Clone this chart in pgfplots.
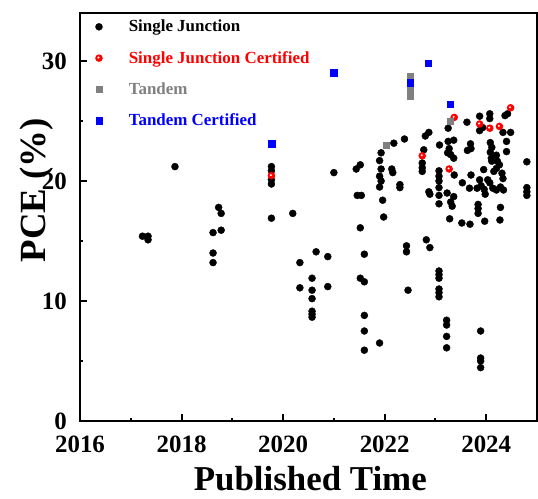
\documentclass[border=0pt]{standalone}
\usepackage{fontspec}
\setmainfont{Liberation Serif}
\usepackage{pgfplots}
\pgfplotsset{compat=1.18}
\definecolor{tgray}{RGB}{128,128,128}
\pgfdeclareplotmark{redball}{%
  \pgfpathcircle{\pgfpointorigin}{\pgfplotmarksize}%
  \pgfsetfillcolor{red}\pgfusepathqfill
  \pgfpathcircle{\pgfpoint{-0.15\pgfplotmarksize}{0.15\pgfplotmarksize}}{0.3\pgfplotmarksize}%
  \pgfsetfillcolor{white}\pgfusepathqfill}
\begin{document}
\begin{tikzpicture}
\begin{axis}[
  name=ax,
  scale only axis,
  width=457bp, height=408bp,
  xmin=2016, xmax=2025, ymin=0, ymax=34,
  xtick={2016,2018,2020,2022,2024},
  ytick={0,10,20,30},
  minor x tick num=1, minor y tick num=1,
  tick pos=left, tick align=inside,
  major tick length=7bp, minor tick length=3.5bp,
  every tick/.style={black, line width=2bp},
  axis line style={line width=2.6bp},
  /pgf/number format/assume math mode=true,
  /pgf/number format/1000 sep={},
  ticklabel style={font=\bfseries\fontsize{25}{25}\selectfont, inner sep=0pt},
  xticklabel style={yshift=-15bp},
  yticklabel style={xshift=-13bp},
  xlabel={Published Time},
  ylabel={PCE (\%)},
  every axis x label/.style={at={(axis description cs:0.504,-0.142)}, anchor=center, font=\bfseries\fontsize{35}{35}\selectfont},
  every axis y label/.style={at={(axis description cs:-0.094,0.566)}, rotate=90, anchor=center, font=\bfseries\fontsize{37}{37}\selectfont},
  legend style={at={(axis description cs:0,1)}, anchor=north west, xshift=15bp, yshift=-5bp,
    draw=none, fill=none, inner sep=0pt, row sep=14bp, column sep=24bp,
    font=\bfseries\fontsize{17}{17}\selectfont},
  legend cell align=left,
]
\addplot[only marks, mark=*, mark size=3.5bp, black] coordinates {
(2017.23,15.4)(2017.34,15.4)(2017.34,15.1)(2017.87,21.2)
(2018.73,17.8)(2018.78,17.3)(2018.78,15.9)(2018.62,15.7)(2018.62,14.0)(2018.62,13.2)
(2019.77,21.2)(2019.77,20.85)(2019.77,20.1)(2019.77,19.75)(2019.77,16.9)
(2020.19,17.3)(2020.33,13.2)(2020.33,11.1)(2020.65,14.1)(2020.88,13.7)
(2020.57,11.9)(2020.57,10.9)(2020.57,10.2)(2020.57,9.15)(2020.57,8.9)(2020.57,8.65)(2020.88,11.2)
(2021.00,20.7)(2021.44,21.0)(2021.52,21.35)(2021.46,18.8)(2021.54,18.8)
(2021.52,16.1)(2021.60,13.9)(2021.52,11.9)(2021.60,11.6)(2021.60,8.8)(2021.60,7.5)(2021.60,5.9)(2021.90,6.5)
(2021.93,22.35)(2021.90,21.7)(2021.93,21.0)(2021.90,20.4)(2021.93,20.0)(2021.90,19.5)(2021.96,18.4)(2021.98,17.0)
(2022.18,23.15)(2022.14,21.0)(2022.16,20.7)(2022.30,19.7)(2022.30,19.45)(2022.39,23.5)
(2022.43,14.6)(2022.43,14.1)(2022.46,10.9)
(2022.77,22.6)(2022.74,21.5)(2022.74,21.1)(2022.74,20.8)(2022.87,24.05)(2022.80,23.75)
(2022.87,19.1)(2022.89,18.9)(2022.82,15.1)(2022.89,14.45)
(2023.08,23.0)(2023.07,20.85)(2023.07,20.4)(2023.07,20.0)(2023.07,19.45)(2023.07,18.8)(2023.07,18.1)
(2023.25,24.4)(2023.25,23.3)(2023.36,23.4)(2023.27,22.7)(2023.24,22.35)(2023.30,22.2)(2023.36,21.9)
(2023.37,20.5)(2023.23,19.0)(2023.36,18.7)(2023.30,18.25)(2023.33,17.9)(2023.28,16.85)
(2023.07,12.5)(2023.07,12.2)(2023.07,11.9)(2023.07,11.0)(2023.07,10.7)(2023.07,10.35)
(2023.22,8.4)(2023.22,8.0)(2023.22,7.05)(2023.22,6.1)
(2023.62,24.9)(2023.69,23.1)(2023.70,22.7)(2023.63,22.55)(2023.70,20.5)(2023.53,19.85)(2023.67,19.4)
(2023.52,16.5)(2023.68,16.4)
(2024.07,25.6)(2024.07,25.2)(2023.87,25.4)(2023.87,24.2)(2023.93,24.45)
(2023.95,20.95)(2023.87,20.1)(2023.90,19.6)(2023.82,19.4)(2023.96,19.3)(2023.98,18.9)
(2023.84,18.05)(2023.84,17.7)(2023.84,17.3)(2023.97,16.65)
(2023.89,7.5)(2023.89,5.25)(2023.89,5.0)(2023.89,4.45)
(2024.37,25.45)(2024.42,25.6)(2024.33,24.05)(2024.48,24.05)
(2024.08,23.2)(2024.11,22.8)(2024.08,22.4)(2024.10,21.9)(2024.11,21.65)(2024.40,23.3)(2024.40,22.45)
(2024.20,22.15)(2024.22,21.65)(2024.26,21.35)(2024.20,21.05)(2024.15,20.8)(2024.31,20.65)(2024.33,20.2)(2024.28,19.5)
(2024.03,20.1)(2024.07,19.85)(2024.13,19.4)(2024.20,19.25)(2024.34,19.25)(2024.28,17.8)(2024.27,16.75)
(2024.80,21.6)(2024.80,19.45)(2024.80,19.1)(2024.80,18.8)
};
\addlegendentry{Single Junction}
\addplot[only marks, mark=redball, mark size=3.8bp, red] coordinates {
(2019.77,20.45)(2022.74,22.1)(2023.27,21.0)(2023.37,25.3)(2023.87,24.75)(2024.07,24.4)(2024.26,24.55)(2024.48,26.1)
};
\addlegendentry{\textcolor{red}{Single Junction Certified}}
\addplot[only marks, mark=square*, mark size=3bp, tgray] coordinates {
(2022.03,23.0)(2022.50,28.75)(2022.50,28.1)(2022.50,27.6)(2022.50,27.1)(2023.29,24.95)
};
\addlegendentry{\textcolor{tgray}{Tandem}}
\addplot[only marks, mark=square*, mark size=3.3bp, blue] coordinates {
(2019.78,23.1)(2021.00,29.0)(2022.50,28.2)(2022.86,29.8)(2023.29,26.4)
};
\addlegendentry{\textcolor{blue}{Tandem Certified}}
\end{axis}
\pgfresetboundingbox
\path ([shift={(-80bp,-77bp)}]ax.south west) rectangle ([shift={(1bp,13bp)}]ax.north east);
\end{tikzpicture}
\end{document}
